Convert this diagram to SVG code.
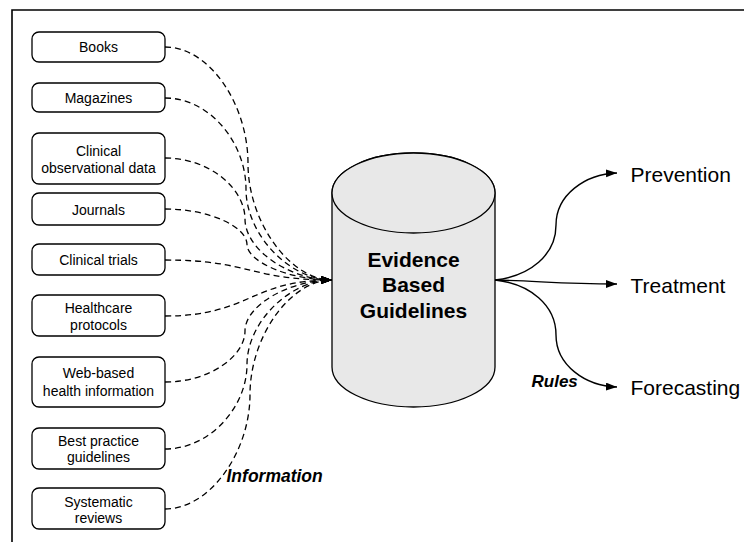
<svg xmlns="http://www.w3.org/2000/svg" width="744" height="542" viewBox="0 0 744 542">
<style>
.box{fill:#fff;stroke:#000;stroke-width:1.3}
.bt{font-family:"Liberation Sans",Arial,sans-serif;font-size:14px;text-anchor:middle;fill:#000}
.dash{fill:none;stroke:#000;stroke-width:1.3;stroke-dasharray:6,4;marker-end:url(#ah)}
.solid{fill:none;stroke:#000;stroke-width:1.4;marker-end:url(#ah)}
.out{font-family:"Liberation Sans",Arial,sans-serif;font-size:21px;fill:#000}
.lbl{font-family:"Liberation Sans",Arial,sans-serif;font-weight:bold;font-style:italic;fill:#000}
.cyl{fill:#e8e8e8;stroke:#000;stroke-width:1.3}
.ct{font-family:"Liberation Sans",Arial,sans-serif;font-weight:bold;font-size:21px;text-anchor:middle;fill:#000}
</style>
<defs>
<marker id="ah" markerUnits="userSpaceOnUse" markerWidth="12" markerHeight="9" refX="11" refY="4" orient="auto">
<path d="M0,0 L11,4 L0,8 z" fill="#000"/>
</marker>
</defs>
<rect width="744" height="542" fill="#fff"/>
<path d="M12,542 V10 H744" fill="none" stroke="#000" stroke-width="1.6"/>

<g id="connectors">
<path class="dash" d="M165,47 C210,47 248,105 248,163.5 C248,222 290,280 332,280"/>
<path class="dash" d="M165,98 C210,98 246,143 246,189 C246,235 290,280 332,280"/>
<path class="dash" d="M165,158 C210,158 245,189 245,219 C245,250 290,280 332,280"/>
<path class="dash" d="M165,209 C210,209 247,227 247,244.5 C247,262 290,280 332,280"/>
<path class="dash" d="M165,260 C250,260 250,280 332,280"/>
<path class="dash" d="M165,316 C250,316 250,280 332,280"/>
<path class="dash" d="M165,382 C210,382 245,356 245,331 C245,305 290,280 332,280"/>
<path class="dash" d="M165,449 C210,449 247,407 247,364.5 C247,322 290,280 332,280"/>
<path class="dash" d="M165,509 C210,509 250,452 250,394.5 C250,337 290,280 332,280"/>
<path class="solid" d="M495,280 C530,276 556,255 556,225 C556,195 585,174 617,173"/>
<path class="solid" d="M495,280 C540,281 560,284 617,284"/>
<path class="solid" d="M495,280 C530,284 556,305 556,335 C556,365 585,386 617,387"/>
<text class="lbl" x="226.5" y="482" font-size="17.5">Information</text>
<text class="lbl" x="531.5" y="386.5" font-size="17">Rules</text>
</g>

<g id="books"><rect class="box" x="32" y="32" width="133" height="30" rx="7"/><text class="bt" x="98.5" y="52">Books</text></g>
<g id="magazines"><rect class="box" x="32" y="83" width="133" height="29" rx="7"/><text class="bt" x="98.5" y="102.5">Magazines</text></g>
<g id="clinical-obs"><rect class="box" x="32" y="133" width="133" height="51" rx="7"/><text class="bt" x="98.5" y="155.5">Clinical</text><text class="bt" x="98.5" y="173">observational data</text></g>
<g id="journals"><rect class="box" x="32" y="193" width="133" height="32" rx="7"/><text class="bt" x="98.5" y="214.5">Journals</text></g>
<g id="clinical-trials"><rect class="box" x="32" y="244" width="133" height="31" rx="7"/><text class="bt" x="98.5" y="265">Clinical trials</text></g>
<g id="healthcare"><rect class="box" x="32" y="295" width="133" height="41" rx="7"/><text class="bt" x="98.5" y="313">Healthcare</text><text class="bt" x="98.5" y="330">protocols</text></g>
<g id="web"><rect class="box" x="32" y="357" width="133" height="50" rx="7"/><text class="bt" x="98.5" y="378">Web-based</text><text class="bt" x="98.5" y="395.5">health information</text></g>
<g id="best-practice"><rect class="box" x="32" y="428" width="133" height="41" rx="7"/><text class="bt" x="98.5" y="445.5">Best practice</text><text class="bt" x="98.5" y="462">guidelines</text></g>
<g id="systematic"><rect class="box" x="32" y="488" width="133" height="41" rx="7"/><text class="bt" x="98.5" y="506.5">Systematic</text><text class="bt" x="98.5" y="522.5">reviews</text></g>

<g id="ebg">
<path class="cyl" d="M332,193 A81.5,40 0 0 1 495,193 V367 A81.5,40 0 0 1 332,367 Z"/>
<ellipse class="cyl" cx="413.5" cy="193" rx="81.5" ry="40"/>
<text class="ct" x="413.5" y="266.5">Evidence</text>
<text class="ct" x="413.5" y="292.3">Based</text>
<text class="ct" x="413.5" y="318.3">Guidelines</text>
</g>

<g id="prevention"><text class="out" x="630.5" y="181.5">Prevention</text></g>
<g id="treatment"><text class="out" x="630.5" y="293">Treatment</text></g>
<g id="forecasting"><text class="out" x="630.5" y="395">Forecasting</text></g>
</svg>
